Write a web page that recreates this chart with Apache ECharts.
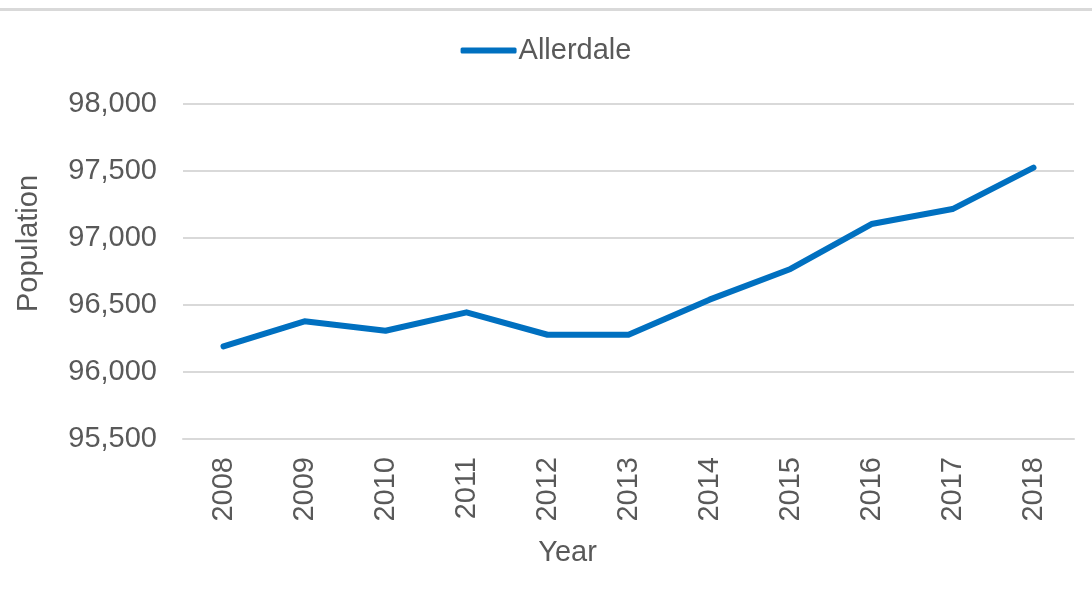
<!DOCTYPE html>
<html>
<head>
<meta charset="utf-8">
<script src="https://cdn.jsdelivr.net/npm/echarts@6/dist/echarts.min.js"></script>
<style>
  html, body { margin: 0; padding: 0; background: #fff; }
  #chart { width: 1092px; height: 592px; }
</style>
</head>
<body>
<div id="chart"></div>
<script>
// population by year, Allerdale
const years = ['2008', '2009', '2010', '2011', '2012', '2013', '2014', '2015', '2016', '2017', '2018'];
const allerdale = [96191, 96378, 96308, 96445, 96278, 96278, 96540, 96769, 97104, 97216, 97525];
const seriesName = 'Allerdale';

const textColor = '#595959';
const fontFamily = 'Liberation Sans, Arial, sans-serif';

const myChart = echarts.init(document.getElementById('chart'));

const option = {
  animation: false,
  textStyle: { fontFamily: fontFamily },
  // grey rule across the top of the picture
  graphic: [{
    type: 'rect',
    shape: { x: 0, y: 8, width: 1092, height: 3 },
    style: { fill: '#d9d9d9' }
  }],
  legend: {
    top: 31,
    left: 'center',
    icon: 'roundRect',
    itemWidth: 56,
    itemHeight: 6,
    itemGap: 10,
    textStyle: { color: textColor, fontSize: 29, fontFamily: fontFamily, padding: [0, 0, 0, -3] },
    data: [seriesName]
  },
  grid: {
    left: 183,
    right: 18,
    top: 104,
    bottom: 153
  },
  xAxis: {
    type: 'category',
    data: years,
    boundaryGap: true,
    name: 'Year',
    nameLocation: 'middle',
    nameGap: 99,
    nameTextStyle: { color: textColor, fontSize: 29, padding: [0, 122, 0, 0] },
    axisLine: { show: true, lineStyle: { color: '#d9d9d9', width: 2 } },
    axisTick: { show: false },
    axisLabel: { rotate: 90, color: textColor, fontSize: 29, margin: 18 }
  },
  yAxis: {
    type: 'value',
    min: 95500,
    max: 98000,
    interval: 500,
    name: 'Population',
    nameLocation: 'middle',
    nameGap: 140,
    nameTextStyle: { color: textColor, fontSize: 29, padding: [0, 0, 0, 56] },
    axisLine: { show: false },
    axisTick: { show: false },
    splitLine: { lineStyle: { color: '#d9d9d9', width: 2 } },
    axisLabel: {
      color: textColor,
      fontSize: 29,
      margin: 26,
      formatter: function (v) { return v.toLocaleString('en-US'); }
    }
  },
  series: [{
    name: seriesName,
    type: 'line',
    data: allerdale,
    showSymbol: false,
    symbol: 'none',
    lineStyle: { color: '#0070c0', width: 6, cap: 'round', join: 'round' },
    itemStyle: { color: '#0070c0' }
  }]
};

myChart.setOption(option);
</script>
</body>
</html>
